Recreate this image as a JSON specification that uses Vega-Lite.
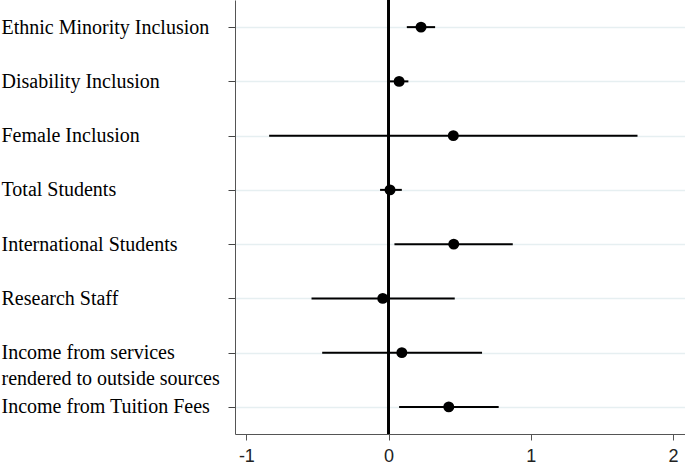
{
  "$schema": "https://vega.github.io/schema/vega-lite/v6.json",
  "width": 450,
  "height": 434,
  "autosize": {"type": "none"},
  "padding": {"left": 235, "top": 0, "right": 0, "bottom": 28},
  "background": "white",
  "config": {"view": {"stroke": null}},
  "data": {"values": [
    {"var": "Ethnic Minority Inclusion", "coef": 0.228, "lo": 0.128, "hi": 0.327},
    {"var": "Disability Inclusion", "coef": 0.074, "lo": -0.001, "hi": 0.139},
    {"var": "Female Inclusion", "coef": 0.455, "lo": -0.84, "hi": 1.75},
    {"var": "Total Students", "coef": 0.01, "lo": -0.06, "hi": 0.093},
    {"var": "International Students", "coef": 0.458, "lo": 0.041, "hi": 0.873},
    {"var": "Research Staff", "coef": -0.041, "lo": -0.542, "hi": 0.465},
    {"var": "Income from services rendered to outside sources", "coef": 0.093, "lo": -0.467, "hi": 0.657},
    {"var": "Income from Tuition Fees", "coef": 0.423, "lo": 0.074, "hi": 0.774}
  ]},
  "encoding": {
    "y": {
      "field": "var", "type": "nominal", "sort": null,
      "scale": {"type": "point", "padding": 0.5},
      "axis": {
        "title": null,
        "grid": true, "gridColor": "#e6eff1", "gridWidth": 1.5,
        "domainColor": "#555555", "domainWidth": 1,
        "tickColor": "#444444", "tickSize": 7, "tickWidth": 1,
        "labelAlign": "left", "labelPadding": 227, "labelBaseline": "middle",
        "labelFont": "Liberation Serif", "labelFontSize": 20, "labelColor": "black",
        "labelLimit": 0, "labelLineHeight": 26,
        "labelExpr": "datum.value == 'Income from services rendered to outside sources' ? ['Income from services', 'rendered to outside sources'] : datum.value"
      }
    }
  },
  "layer": [
    {
      "mark": {"type": "rule", "color": "black", "strokeWidth": 2},
      "encoding": {
        "x": {"datum": 0, "type": "quantitative"},
        "y": null
      }
    },
    {
      "mark": {"type": "rule", "color": "black", "strokeWidth": 2},
      "encoding": {
        "x": {
          "field": "lo", "type": "quantitative",
          "scale": {"domain": [-1.08, 2.084], "nice": false, "zero": false},
          "axis": {
            "title": null, "values": [-1, 0, 1, 2], "grid": false,
            "domainColor": "#555555", "domainWidth": 1,
            "tickColor": "#555555", "tickSize": 6, "tickWidth": 1,
            "labelFont": "Liberation Sans", "labelFontSize": 18, "labelColor": "#222222",
            "labelPadding": 7, "labelFlush": false,
            "labelExpr": "'' + datum.value"
          }
        },
        "x2": {"field": "hi"}
      }
    },
    {
      "mark": {"type": "point", "filled": true, "color": "black", "opacity": 1, "size": 120},
      "encoding": {
        "x": {"field": "coef", "type": "quantitative"}
      }
    }
  ]
}
